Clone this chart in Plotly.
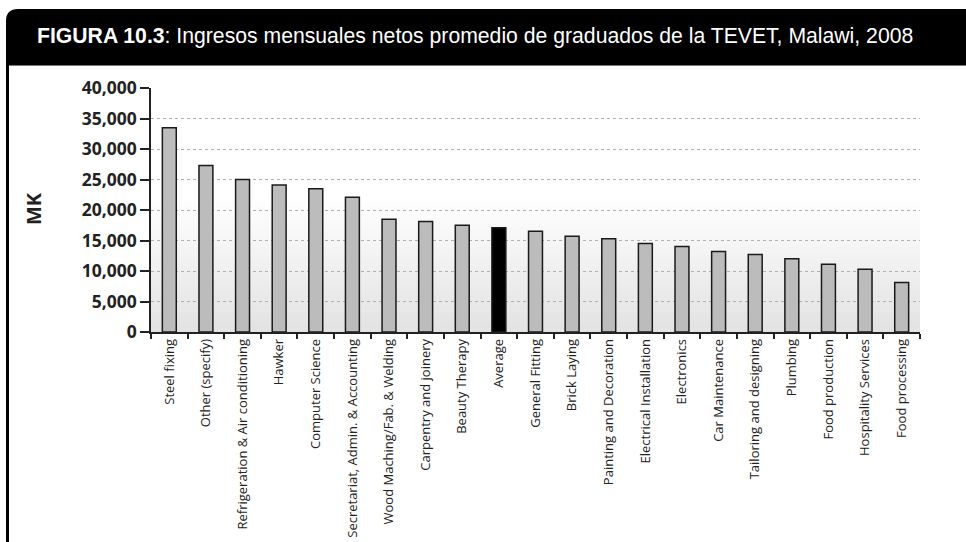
import plotly.graph_objects as go

categories = [
    "Steel fixing", "Other (specify)", "Refrigeration & Air conditioning", "Hawker",
    "Computer Science", "Secretariat, Admin. & Accounting", "Wood Maching/Fab. & Welding",
    "Carpentry and joinery", "Beauty Therapy", "Average", "General Fitting", "Brick Laying",
    "Painting and Decoration", "Electrical Installation", "Electronics", "Car Maintenance",
    "Tailoring and designing", "Plumbing", "Food production", "Hospitality Services",
    "Food processing",
]
values = [33500, 27300, 25000, 24100, 23500, 22100, 18500, 18100, 17500, 17100, 16500,
          15700, 15300, 14500, 14000, 13200, 12700, 12000, 11100, 10300, 8100]
y_ticks = [0, 5000, 10000, 15000, 20000, 25000, 30000, 35000, 40000]
y_tick_labels = ["0", "5,000", "10,000", "15,000", "20,000", "25,000", "30,000", "35,000", "40,000"]

W, H = 966, 550
ML, MR, MT, MB = 151, 46, 88, 218
PW, PH = W - ML - MR, H - MT - MB


def px(x):
    return (x - ML) / PW


def py(y):
    return (H - MB - y) / PH


colors = ["#000000" if c == "Average" else "#bcbcbc" for c in categories]

fig = go.Figure()
fig.add_trace(go.Bar(
    x=categories, y=values,
    marker=dict(color=colors, line=dict(color="#1a1a1a", width=1.5)),
    width=0.38,
    hoverinfo="x+y",
))

shapes = []
# background gradient (white at top, light grey at bottom)
n = 60
start = 0.55
for i in range(n):
    f0 = start * i / n
    f1 = start * (i + 1) / n
    t = 1 - (i + 0.5) / n
    g = int(round(0xe2 + (0xff - 0xe2) * (1 - t)))
    shapes.append(dict(type="rect", xref="x domain", yref="y domain",
                       x0=0, x1=1, y0=f0, y1=f1 + 0.002, layer="below",
                       line=dict(width=0), fillcolor=f"rgb({g},{g},{g})"))

# title bar with rounded top-left corner
L, T, R, B, r = 6, 9, 966, 65, 12
path = (f"M {px(L)},{py(B)} L {px(L)},{py(T + r)} "
        f"Q {px(L)},{py(T)} {px(L + r)},{py(T)} "
        f"L {px(R)},{py(T)} L {px(R)},{py(B)} Z")
shapes.append(dict(type="path", xref="paper", yref="paper", path=path,
                   fillcolor="black", line=dict(width=0), layer="above"))
# thin grey rule under the title bar
shapes.append(dict(type="line", xref="paper", yref="paper",
                   x0=px(L), x1=px(R), y0=py(B + 0.5), y1=py(B + 0.5),
                   line=dict(color="#777777", width=1)))
# left frame border
shapes.append(dict(type="line", xref="paper", yref="paper",
                   x0=px(7.5), x1=px(7.5), y0=py(B), y1=py(H),
                   line=dict(color="black", width=3)))

fig.update_layout(
    width=W, height=H,
    margin=dict(l=ML, r=MR, t=MT, b=MB),
    paper_bgcolor="white", plot_bgcolor="white",
    showlegend=False,
    shapes=shapes,
    xaxis=dict(
        type="category", tickangle=-90, tickson="boundaries",
        ticks="outside", ticklen=5, tickwidth=1.5, tickcolor="#222",
        showline=True, linecolor="#222", linewidth=1.5,
        showgrid=False,
        tickfont=dict(family="Open Sans, sans-serif", size=13, color="#222"),
    ),
    yaxis=dict(
        range=[0, 40000], tickvals=y_ticks, ticktext=y_tick_labels,
        ticks="outside", ticklen=9, tickwidth=1.5, tickcolor="#222",
        showline=True, linecolor="#222", linewidth=1.5,
        showgrid=True, gridcolor="#b0b0b0", gridwidth=1, griddash="dot",
        zeroline=False,
        tickfont=dict(family="Open Sans, sans-serif", size=17.5, color="#222", weight="bold"),
    ),
    annotations=[
        dict(text="<b>FIGURA 10.3</b>: Ingresos mensuales netos promedio de graduados de la TEVET, Malawi, 2008",
             xref="paper", yref="paper", x=px(35), y=py(36), xanchor="left", yanchor="middle",
             showarrow=False, font=dict(family="Liberation Sans, Arial, sans-serif", size=21.2, color="white")),
        dict(text="<b>MK</b>", xref="paper", yref="paper", x=px(33), y=py(209),
             xanchor="center", yanchor="middle", textangle=-90, showarrow=False,
             font=dict(family="Open Sans, sans-serif", size=20, color="#222")),
    ],
)

fig.write_html(
    "out.html",
    config={"displayModeBar": False, "responsive": False},
    post_script="document.body.style.margin='0';document.body.style.overflow='hidden';",
)
